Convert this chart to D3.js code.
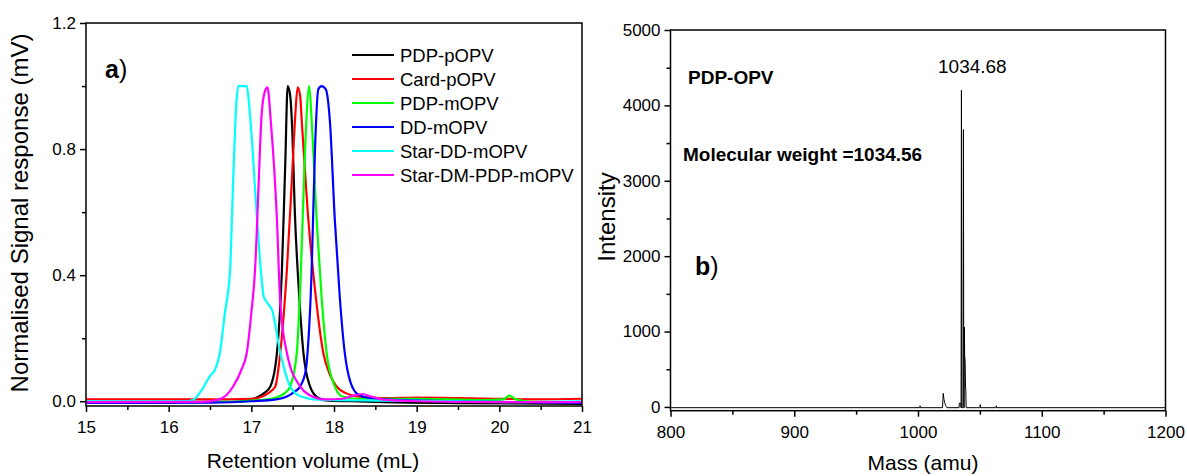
<!DOCTYPE html>
<html>
<head>
<meta charset="utf-8">
<script src="https://cdn.jsdelivr.net/npm/d3@7"></script>
<style>
    body { margin: 0; background: #fff; }
    text { font-family: Arial, "Liberation Sans", sans-serif; fill: #000; }
    .axis path, .axis line { stroke: #000; stroke-width: 1.5; }
    .axis text { font-size: 17px; }
</style>
</head>
<body>
<div id="chart"></div>
<script>
// panel a) GPC traces
let seriesNames = ['PDP-pOPV', 'Card-pOPV', 'PDP-mOPV', 'DD-mOPV', 'Star-DD-mOPV', 'Star-DM-PDP-mOPV']
let seriesColors = ['#000000', '#ff0000', '#00ff00', '#0000ff', '#00ffff', '#ff00ff']

let pdpPopvX = [15, 16, 16.6, 16.9, 17.05, 17.15, 17.23, 17.31, 17.37, 17.41, 17.44, 17.47, 17.49, 17.53, 17.58, 17.63, 17.71, 17.8, 17.9, 18.2, 18.6, 19.5, 21]
let pdpPopvY = [-0.005, -0.004, -0.002, 0.0, 0.01, 0.025, 0.047, 0.154, 0.417, 0.75, 1.0, 0.97, 0.89, 0.575, 0.33, 0.154, 0.047, 0.012, 0.003, 0.0, -0.003, -0.006, -0.008]

let cardPopvX = [15, 16.5, 17.0, 17.1, 17.2, 17.29, 17.35, 17.43, 17.49, 17.53, 17.56, 17.59, 17.61, 17.69, 17.78, 17.87, 17.95, 18.03, 18.15, 18.3, 18.6, 19, 20, 20.5, 21]
let cardPopvY = [0.006, 0.006, 0.008, 0.012, 0.025, 0.047, 0.154, 0.417, 0.7, 0.9, 0.996, 0.97, 0.89, 0.575, 0.33, 0.154, 0.085, 0.047, 0.025, 0.015, 0.01, 0.012, 0.008, 0.006, 0.008]

let pdpMopvX = [15, 16.8, 17.0, 17.2, 17.3, 17.4, 17.47, 17.55, 17.6, 17.65, 17.7, 17.73, 17.79, 17.85, 17.91, 18.01, 18.1, 18.3, 19, 19.8, 20.05, 20.12, 20.2, 20.4, 21]
let pdpMopvY = [-0.002, -0.002, 0.002, 0.006, 0.012, 0.025, 0.047, 0.154, 0.417, 0.8, 1.0, 0.89, 0.575, 0.33, 0.154, 0.047, 0.015, 0.008, 0.008, 0.004, 0.006, 0.018, 0.006, -0.002, -0.004]

let ddMopvX = [15, 16.5, 17.0, 17.3, 17.43, 17.52, 17.59, 17.66, 17.68, 17.73, 17.77, 17.81, 17.85, 17.9, 17.95, 18.01, 18.07, 18.13, 18.2, 18.3, 18.5, 19, 20, 21]
let ddMopvY = [-0.005, -0.004, 0.0, 0.006, 0.015, 0.03, 0.047, 0.1, 0.154, 0.417, 0.8, 0.99, 1.0, 0.99, 0.89, 0.575, 0.33, 0.154, 0.06, 0.02, 0.008, 0.003, -0.002, -0.005]

let starDdX = [15, 16.2, 16.3, 16.4, 16.5, 16.56, 16.62, 16.68, 16.743, 16.78, 16.82, 16.843, 16.945, 16.97, 16.99, 17.07, 17.12, 17.15, 17.2, 17.25, 17.35, 17.47, 17.6, 17.8, 18.5, 19.5, 20.2, 20.5, 21]
let starDdY = [0.0, 0.0, 0.005, 0.036, 0.08, 0.1, 0.154, 0.28, 0.417, 0.7, 0.95, 1.0, 1.0, 0.95, 0.89, 0.575, 0.4, 0.332, 0.31, 0.29, 0.154, 0.047, 0.015, 0.005, 0.002, 0.0, -0.003, -0.002, 0.0]

let starDmX = [15, 16.4, 16.6, 16.7, 16.78, 16.88, 16.945, 17.0, 17.045, 17.09, 17.12, 17.16, 17.195, 17.235, 17.31, 17.35, 17.43, 17.59, 17.7, 17.9, 18.1, 18.2, 18.34, 18.45, 18.6, 19, 20, 21]
let starDmY = [-0.003, -0.002, 0.005, 0.02, 0.047, 0.1, 0.154, 0.28, 0.417, 0.7, 0.89, 0.98, 0.996, 0.89, 0.575, 0.31, 0.154, 0.047, 0.02, 0.006, 0.008, 0.015, 0.023, 0.015, 0.005, 0.0, -0.003, -0.003]

let gpcX = [pdpPopvX, cardPopvX, pdpMopvX, ddMopvX, starDdX, starDmX]
let gpcY = [pdpPopvY, cardPopvY, pdpMopvY, ddMopvY, starDdY, starDmY]

let gpcXTicks = [15, 16, 17, 18, 19, 20, 21]
let gpcYTicks = [0.0, 0.4, 0.8, 1.2]

// panel b) mass spectrum
let massValues = [800, 1001.4, 1001.7, 1002.0, 1019.8, 1020.4, 1020.9, 1021.5, 1022.3, 1023.4, 1033.2, 1033.4, 1034.5, 1034.8, 1035.1, 1035.4, 1035.7, 1036.4, 1036.7, 1037.0, 1037.3, 1037.5, 1037.7, 1037.9, 1038.1, 1038.4, 1038.6, 1038.9, 1039.4, 1050.0, 1050.3, 1050.6, 1063.0, 1063.3, 1063.6, 1200]
let intensityValues = [-10, -10, 15, -10, -10, 180, 110, 60, 20, -10, -10, 50, 50, -10, 4200, -10, -10, -10, 3680, -10, -10, 1060, 660, 650, 600, 250, 250, -10, -10, -10, 30, -10, -10, 15, -10, -10]

let massTicks = [800, 900, 1000, 1100, 1200]
let intensityTicks = [0, 1000, 2000, 3000, 4000, 5000]

let svg = d3.select('#chart')
    .append('svg')
    .attr('width', 1187)
    .attr('height', 476)

const drawFrame = (x, y) => {
    svg.append('rect')
        .attr('x', x.range()[0])
        .attr('y', y.range()[1])
        .attr('width', x.range()[1] - x.range()[0])
        .attr('height', y.range()[0] - y.range()[1])
        .attr('fill', 'none')
        .attr('stroke', '#000')
        .attr('stroke-width', 1.5)
}

const drawAxes = (x, y, xTicks, yTicks, xMinor, yMinor, yFormat) => {
    let bottom = y.range()[0], left = x.range()[0]

    svg.append('g')
        .classed('axis', true)
        .attr('transform', `translate(0, ${bottom})`)
        .call(d3.axisBottom(x).tickValues(xMinor).tickSize(4).tickFormat('').tickSizeOuter(0))

    svg.append('g')
        .classed('axis', true)
        .attr('transform', `translate(0, ${bottom})`)
        .call(d3.axisBottom(x).tickValues(xTicks).tickSize(6).tickPadding(9).tickSizeOuter(0).tickFormat(d3.format('d')))

    svg.append('g')
        .classed('axis', true)
        .attr('transform', `translate(${left}, 0)`)
        .call(d3.axisLeft(y).tickValues(yMinor).tickSize(4).tickFormat('').tickSizeOuter(0))

    svg.append('g')
        .classed('axis', true)
        .attr('transform', `translate(${left}, 0)`)
        .call(d3.axisLeft(y).tickValues(yTicks).tickSize(6).tickPadding(4).tickSizeOuter(0).tickFormat(yFormat))

    svg.selectAll('.axis .domain').remove()
}

// ---- panel a)
let xA = d3.scaleLinear().domain([15, 21]).range([86, 582])
let yA = d3.scaleLinear().domain([-0.015, 1.2]).range([406, 23])

let lineA = d3.line()
    .x(d => xA(d[0]))
    .y(d => yA(d[1]))
    .curve(d3.curveMonotoneX)

gpcX.forEach((xs, i) => {
    let pts = xs.map((v, j) => [v, gpcY[i][j]])
    svg.append('path')
        .datum(pts)
        .attr('d', lineA)
        .attr('fill', 'none')
        .attr('stroke', seriesColors[i])
        .attr('stroke-width', 2.2)
})

drawFrame(xA, yA)
drawAxes(xA, yA, gpcXTicks, gpcYTicks,
    d3.range(15.5, 21, 1), [0.2, 0.6, 1.0], d3.format('.1f'))

let legend = svg.append('g')
    .attr('transform', 'translate(352, 55)')

seriesNames.forEach((name, i) => {
    legend.append('line')
        .attr('x1', 0)
        .attr('x2', 42)
        .attr('y1', i * 24)
        .attr('y2', i * 24)
        .attr('stroke', seriesColors[i])
        .attr('stroke-width', 2.2)
    legend.append('text')
        .attr('x', 48)
        .attr('y', i * 24 + 6.5)
        .style('font-size', '18.5px')
        .text(name)
})

let labelA = svg.append('text')
    .attr('x', 105)
    .attr('y', 78)
    .style('font-size', '25px')
labelA.append('tspan').style('font-weight', 'bold').text('a')
labelA.append('tspan').text(')')

svg.append('text')
    .attr('x', 313)
    .attr('y', 468)
    .attr('text-anchor', 'middle')
    .style('font-size', '21px')
    .text('Retention volume (mL)')

svg.append('text')
    .attr('transform', 'translate(28, 213) rotate(-90)')
    .attr('text-anchor', 'middle')
    .style('font-size', '24px')
    .text('Normalised Signal response (mV)')

// ---- panel b)
let xB = d3.scaleLinear().domain([800, 1200]).range([670.5, 1165.5])
let yB = d3.scaleLinear().domain([-50, 5000]).range([410.7, 30])

let lineB = d3.line()
    .x(d => xB(d[0]))
    .y(d => yB(d[1]))

svg.append('path')
    .datum(massValues.map((m, j) => [m, intensityValues[j]]))
    .attr('d', lineB)
    .attr('fill', 'none')
    .attr('stroke', '#000')
    .attr('stroke-width', 1)

drawFrame(xB, yB)
drawAxes(xB, yB, massTicks, intensityTicks,
    [850, 950, 1050, 1150], [500, 1500, 2500, 3500, 4500], d3.format('d'))

svg.append('text')
    .attr('x', 938)
    .attr('y', 73)
    .style('font-size', '19px')
    .text('1034.68')

svg.append('text')
    .attr('x', 688)
    .attr('y', 84)
    .style('font-size', '19px')
    .style('font-weight', 'bold')
    .text('PDP-OPV')

svg.append('text')
    .attr('x', 683)
    .attr('y', 161)
    .style('font-size', '19px')
    .style('font-weight', 'bold')
    .text('Molecular weight =1034.56')

let labelB = svg.append('text')
    .attr('x', 695)
    .attr('y', 275)
    .style('font-size', '25px')
labelB.append('tspan').style('font-weight', 'bold').text('b')
labelB.append('tspan').text(')')

svg.append('text')
    .attr('x', 923)
    .attr('y', 470)
    .attr('text-anchor', 'middle')
    .style('font-size', '21px')
    .text('Mass (amu)')

svg.append('text')
    .attr('transform', 'translate(615, 217) rotate(-90)')
    .attr('text-anchor', 'middle')
    .style('font-size', '24px')
    .text('Intensity')
</script>
</body>
</html>
